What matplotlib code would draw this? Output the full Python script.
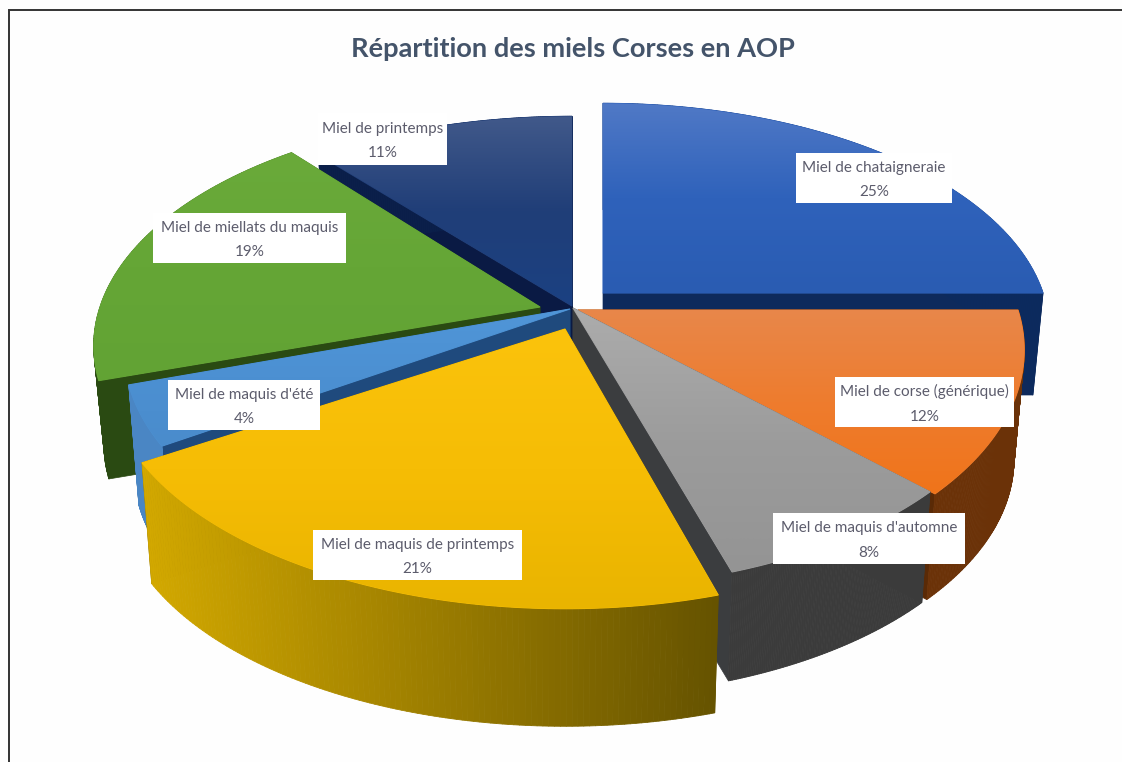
import numpy as np
import matplotlib
matplotlib.use("Agg")
import matplotlib.pyplot as plt
from matplotlib.collections import PolyCollection
from matplotlib.patches import Rectangle, PathPatch
from matplotlib.path import Path
from matplotlib.colors import to_rgb

title = "Répartition des miels Corses en AOP"
names = ["Miel de chataigneraie", "Miel de corse (générique)", "Miel de maquis d'automne",
         "Miel de maquis de printemps", "Miel de maquis d'été", "Miel de miellats du maquis",
         "Miel de printemps"]
percents = [25, 12, 8, 21, 4, 19, 11]

# style per slice (pixel-based layout of the perspective pie)
apex = [(603, 293), (578, 310), (573, 308), (565, 329), (570, 309), (540, 307), (572, 306)]
rad_x = [1.0, 1.0, 1.0, 1.03, 1.0, 1.0, 1.02]
rad_y = [0.95, 1.0, 1.0, 1.0, 1.0, 0.97, 0.95]
depth = [102, 110, 115, 124, 122, 100, 100]
rot_start = [0, 0, 1.0, 1.5, 0, 0, 0]
rot_end = [0, 1.0, 0.3, 0.8, 0, 0, 0]
top_grad = [("#5079c6", "#2f62bb", "#2a5cb2"), ("#e8874a", "#ee7c2e", "#f0741a"),
            ("#acacac", "#9c9c9c", "#949494"), ("#fbc30c", "#f6bd05", "#e9b400"),
            ("#5096d8", "#4c90d2", "#4a8ccc"), ("#6aaa3a", "#65a636", "#62a334"),
            ("#41598a", "#203e78", "#1b4182")]
wall_left = ["#0c2a5e", "#6b3208", "#3b3b3b", "#d2a800", "#4a86c4", "#2a4a12", "#0b1f4a"]
wall_right = ["#0c2a5e", "#6b3208", "#3b3b3b", "#665300", "#4a86c4", "#2a4a12", "#0b1f4a"]
cut_col = ["#0e2a5c", "#5a2a06", "#3b3d3f", "#665300", "#1f4a7d", "#2a4a12", "#0a1a44"]
boxes = [(796, 153, 952, 203), (835, 377, 1014, 427), (773, 513, 965, 564), (313, 530, 522, 580),
         (168, 380, 320, 430), (153, 213, 346, 263), (318, 113, 447, 165)]
draw_order = [6, 0, 5, 1, 4, 2, 3]

AX, BY, K, SCALE = 440.0, 233.0, 0.167, 0.977


def project(theta, i):
    u, v = np.sin(theta), -np.cos(theta)
    f = 1.0 / (1.0 - K * v)
    return apex[i][0] + AX * rad_x[i] * u * f, apex[i][1] + BY * rad_y[i] * v * f


def lower(x, y, i):
    return apex[i][0] + SCALE * (x - apex[i][0]), apex[i][1] + SCALE * (y - apex[i][1]) + depth[i]


fig = plt.figure(figsize=(11.22, 7.62), dpi=100, facecolor="#fefefe")
ax = fig.add_axes([0, 0, 1, 1])
ax.axis("off")

edges = np.concatenate([[0], np.cumsum(percents)]) / sum(percents) * 2 * np.pi
z = 2
for i in draw_order:
    th = np.linspace(edges[i] + np.radians(rot_start[i]), edges[i + 1] + np.radians(rot_end[i]), 120)
    x, y = project(th, i)
    bx, by = lower(x, y, i)
    ax0, ay0 = apex[i]
    bax, bay = lower(np.array(ax0), np.array(ay0), i)
    # cut faces
    for j in (0, -1):
        ax.fill([ax0, x[j], bx[j], bax], [ay0, y[j], by[j], bay], color=cut_col[i], lw=0.5, zorder=z)
    z += 1
    # outer wall shaded from one end to the other
    c0, c1 = np.array(to_rgb(wall_left[i])), np.array(to_rgb(wall_right[i]))
    quads = [[(x[j], y[j]), (x[j + 1], y[j + 1]), (bx[j + 1], by[j + 1]), (bx[j], by[j])] for j in range(len(x) - 1)]
    xm = (x[:-1] + x[1:]) / 2
    span = max(xm.max() - xm.min(), 1)
    cols = [c0 + (c1 - c0) * (a - xm.min()) / span for a in xm]
    ax.add_collection(PolyCollection(quads, facecolors=cols, edgecolors=cols, linewidths=0.6, zorder=z))
    z += 1
    # top face with a vertical gradient, over a flat base that hides the wall at its edge
    px = np.concatenate([[ax0], x, [ax0]])
    py = np.concatenate([[ay0], y, [ay0]])
    ax.fill(px, py, color=top_grad[i][1], lw=0.8, zorder=z)
    z += 1
    stops = np.array([to_rgb(c) for c in top_grad[i]])
    n = 200
    t = np.linspace(0, 1, n)
    img = np.stack([np.interp(t, [0, 0.5, 1], stops[:, c]) for c in range(3)], axis=1)[:, None, :]
    im = ax.imshow(img, extent=(px.min(), px.max(), py.max(), py.min()), aspect="auto",
                   zorder=z, interpolation="bilinear")
    patch = PathPatch(Path(np.column_stack([px, py])), transform=ax.transData, fc="none", ec="none")
    ax.add_patch(patch)
    im.set_clip_path(patch)
    z += 1

for name, pct, (x0, y0, x1, y1) in zip(names, percents, boxes):
    ax.add_patch(Rectangle((x0, y0), x1 - x0, y1 - y0, fc="white", ec="none", zorder=50))
    ax.text((x0 + x1) / 2, (y0 + y1) / 2 + 2, f"{name}\n{pct}%", ha="center", va="center",
            family="Lato", fontsize=11, color="#5c5c6c", linespacing=1.95, zorder=51)

ax.text(573, 49, title, ha="center", va="center", family="Lato", fontweight="bold",
        fontsize=19.6, color="#44546a", zorder=51)

# frame: left and top edges only
ax.plot([9, 9, 1122], [762, 10, 10], color="#333333", lw=1.4, zorder=60, solid_joinstyle="miter")

ax.set_xlim(0, 1122)
ax.set_ylim(762, 0)
fig.savefig("out.png", dpi=100, facecolor=fig.get_facecolor())
